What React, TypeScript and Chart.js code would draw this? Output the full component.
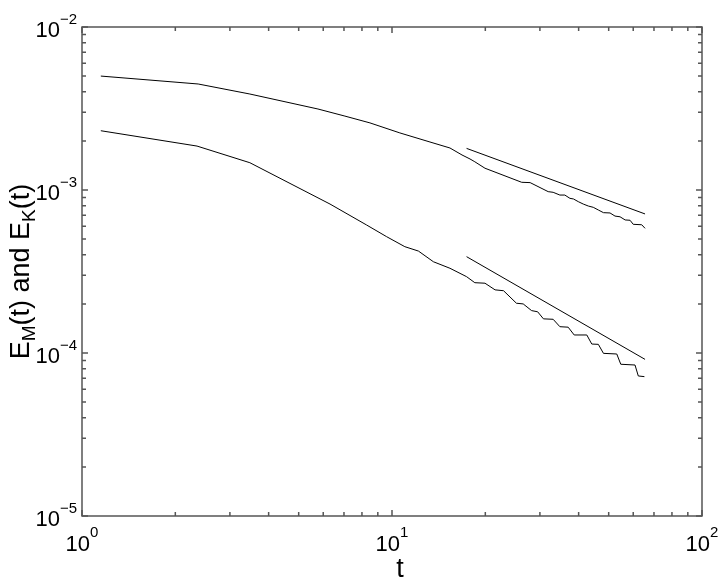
import React, { useEffect, useRef } from "react";
import { Chart, registerables } from "chart.js";
Chart.register(...registerables);

// Upper curve
const upperT = [1.15, 2.37, 3.48, 5.77, 7.05, 8.49, 10.6, 13.26, 15.38, 16.82, 17.85, 18.5, 19.95, 26.2, 27.9, 31.9, 33.1, 34.8, 36.1, 37.5, 38.5, 39.9, 41.4, 43.0, 44.6, 46.3, 48.1, 50.5, 52.4, 54.4, 56.5, 58.6, 60.0, 63.9, 65.5];
const upperE = [5.0e-3, 4.47e-3, 3.88e-3, 3.14e-3, 2.84e-3, 2.58e-3, 2.24e-3, 1.97e-3, 1.81e-3, 1.64e-3, 1.55e-3, 1.49e-3, 1.36e-3, 1.115e-3, 1.11e-3, 9.77e-4, 9.68e-4, 9.31e-4, 9.31e-4, 8.89e-4, 8.81e-4, 8.48e-4, 8.2e-4, 7.97e-4, 7.83e-4, 7.54e-4, 7.26e-4, 7.23e-4, 6.92e-4, 6.85e-4, 6.55e-4, 6.52e-4, 6.16e-4, 6.12e-4, 5.82e-4];

// Lower curve
const lowerT = [1.15, 2.35, 3.48, 6.31, 8.28, 9.61, 11.0, 12.17, 13.6, 15.38, 17.4, 18.5, 19.95, 21.5, 22.9, 25.2, 26.5, 28.2, 29.5, 30.8, 33.1, 34.8, 37.0, 38.7, 42.5, 44.1, 46.3, 48.1, 53.1, 54.7, 60.8, 62.3, 65.2];
const lowerE = [2.31e-3, 1.86e-3, 1.47e-3, 8.2e-4, 6.1e-4, 5.17e-4, 4.49e-4, 4.22e-4, 3.63e-4, 3.31e-4, 2.94e-4, 2.7e-4, 2.68e-4, 2.44e-4, 2.41e-4, 2.02e-4, 2.0e-4, 1.82e-4, 1.79e-4, 1.62e-4, 1.61e-4, 1.45e-4, 1.44e-4, 1.29e-4, 1.29e-4, 1.135e-4, 1.13e-4, 9.95e-5, 9.86e-5, 8.53e-5, 8.44e-5, 7.23e-5, 7.16e-5];

// Reference power-law lines
const refT = [17.4, 65.5];
const refUpperE = [1.8e-3, 7.13e-4];
const refLowerE = [3.9e-4, 9.14e-5];

// Axis decades and labels
const xExponents = [0, 1, 2];
const yExponents = [-5, -4, -3, -2];
const xTitle = "t";

const FONT = "'Liberation Sans', Arial, Helvetica, sans-serif";
const AXIS_COLOR = "#555";

function pts(t: number[], e: number[]) {
  return t.map((v, i) => ({ x: v, y: e[i] }));
}

function drawPow(ctx: CanvasRenderingContext2D, exp: string, x: number, baseY: number, expY: number, align: "center" | "right") {
  ctx.font = `22px ${FONT}`;
  const wb = ctx.measureText("10").width;
  ctx.font = `15px ${FONT}`;
  const we = ctx.measureText(exp).width;
  const total = wb + we;
  const start = align === "center" ? x - total / 2 : x - total;
  ctx.textAlign = "left";
  ctx.textBaseline = "alphabetic";
  ctx.font = `22px ${FONT}`;
  ctx.fillText("10", start, baseY);
  ctx.font = `15px ${FONT}`;
  ctx.fillText(exp, start + wb, expY);
}

const axesPlugin = {
  id: "matlabAxes",
  afterDraw(chart: any) {
    const { ctx, chartArea: a, scales } = chart;
    const xs = scales.x;
    const ys = scales.y;
    ctx.save();
    ctx.strokeStyle = AXIS_COLOR;
    ctx.lineWidth = 1.5;
    ctx.strokeRect(a.left, a.top, a.right - a.left, a.bottom - a.top);
    ctx.beginPath();
    for (let i = 0; i < xExponents.length; i++) {
      const d = xExponents[i];
      const maxM = i === xExponents.length - 1 ? 1 : 9;
      for (let m = 1; m <= maxM; m++) {
        const px = xs.getPixelForValue(m * Math.pow(10, d));
        const len = m === 1 ? 6 : 4;
        ctx.moveTo(px, a.bottom);
        ctx.lineTo(px, a.bottom - len);
        ctx.moveTo(px, a.top);
        ctx.lineTo(px, a.top + len);
      }
    }
    for (let i = 0; i < yExponents.length; i++) {
      const d = yExponents[i];
      const maxM = i === yExponents.length - 1 ? 1 : 9;
      for (let m = 1; m <= maxM; m++) {
        const py = ys.getPixelForValue(m * Math.pow(10, d));
        const len = m === 1 ? 6 : 4;
        ctx.moveTo(a.left, py);
        ctx.lineTo(a.left + len, py);
        ctx.moveTo(a.right, py);
        ctx.lineTo(a.right - len, py);
      }
    }
    ctx.stroke();

    ctx.fillStyle = "#000";
    for (const d of xExponents) {
      const px = xs.getPixelForValue(Math.pow(10, d));
      drawPow(ctx, String(d).replace("-", "\u2212"), px, a.bottom + 35, a.bottom + 21, "center");
    }
    for (const d of yExponents) {
      const py = ys.getPixelForValue(Math.pow(10, d));
      drawPow(ctx, String(d).replace("-", "\u2212"), a.left - 5, py + 10, py - 3, "right");
    }

    // x title
    ctx.font = `27px ${FONT}`;
    ctx.textAlign = "center";
    ctx.textBaseline = "alphabetic";
    ctx.fillText(xTitle, (a.left + a.right) / 2 + 8, 577);

    // y title with subscripts
    const parts: [string, boolean][] = [["E", false], ["M", true], ["(t) and E", false], ["K", true], ["(t)", false]];
    let total = 0;
    const widths = parts.map(([s, sub]) => {
      ctx.font = sub ? `19px ${FONT}` : `27px ${FONT}`;
      const w = ctx.measureText(s).width;
      total += w;
      return w;
    });
    ctx.translate(29, (a.top + a.bottom) / 2);
    ctx.rotate(-Math.PI / 2);
    ctx.textAlign = "left";
    let x = -total / 2;
    parts.forEach(([s, sub], i) => {
      ctx.font = sub ? `19px ${FONT}` : `27px ${FONT}`;
      ctx.fillText(s, x, sub ? 6 : 0);
      x += widths[i];
    });
    ctx.restore();
  },
};

export default function App() {
  const ref = useRef<HTMLCanvasElement>(null);
  useEffect(() => {
    document.body.style.margin = "0";
    const line = (t: number[], e: number[]) => ({
      data: pts(t, e),
      showLine: true,
      borderColor: "#000",
      borderWidth: 1,
      pointRadius: 0,
      fill: false,
      tension: 0,
    });
    const chart = new Chart(ref.current!, {
      type: "scatter",
      data: {
        datasets: [
          line(upperT, upperE),
          line(lowerT, lowerE),
          line(refT, refUpperE),
          line(refT, refLowerE),
        ],
      },
      options: {
        responsive: false,
        animation: false,
        devicePixelRatio: 1,
        layout: { padding: { left: 82, top: 27, right: 23, bottom: 66 } },
        plugins: { legend: { display: false }, tooltip: { enabled: false } },
        scales: {
          x: { type: "logarithmic", min: 1, max: 100, display: false },
          y: { type: "logarithmic", min: 1e-5, max: 1e-2, display: false },
        },
      },
      plugins: [axesPlugin],
    } as any);
    return () => chart.destroy();
  }, []);
  return (
    <div style={{ position: "absolute", left: 0, top: 0, width: 725, height: 582, background: "#fff" }}>
      <canvas ref={ref} width={725} height={582} style={{ display: "block" }} />
    </div>
  );
}
